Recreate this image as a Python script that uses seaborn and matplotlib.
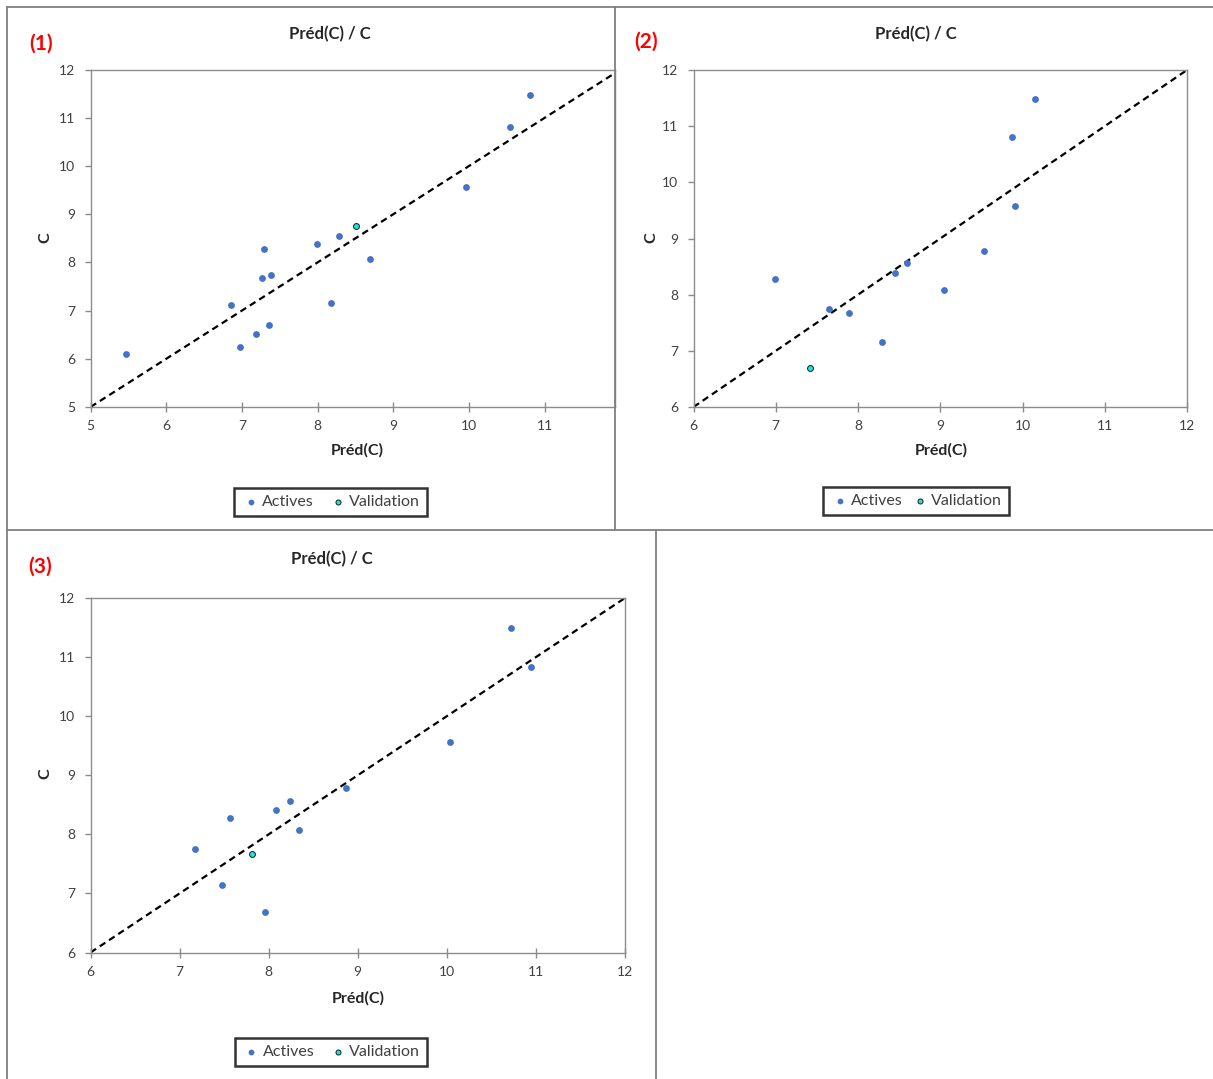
import numpy as np
import pandas as pd
import seaborn as sns
import matplotlib.pyplot as plt
from matplotlib.lines import Line2D

# ---- data: (Préd(C), C) ----
# panel (1)
pred1_act = [5.47, 6.86, 6.98, 7.19, 7.36, 7.27, 7.39, 7.29, 7.99, 8.28, 8.17, 8.69, 9.96, 10.54, 10.81]
obs1_act = [6.10, 7.12, 6.24, 6.51, 6.71, 7.67, 7.73, 8.28, 8.38, 8.55, 7.16, 8.08, 9.56, 10.80, 11.48]
pred1_val = [8.51]
obs1_val = [8.76]

# panel (2)
pred2_act = [6.99, 7.65, 7.89, 8.29, 8.45, 8.59, 9.05, 9.53, 9.87, 9.91, 10.15]
obs2_act = [8.28, 7.74, 7.67, 7.16, 8.39, 8.57, 8.09, 8.78, 10.81, 9.57, 11.49]
pred2_val = [7.42]
obs2_val = [6.70]

# panel (3)
pred3_act = [7.17, 7.48, 7.57, 7.96, 8.08, 8.24, 8.34, 8.87, 10.03, 10.72, 10.95]
obs3_act = [7.75, 7.15, 8.28, 6.69, 8.41, 8.56, 8.08, 8.78, 9.57, 11.49, 10.83]
pred3_val = [7.81]
obs3_val = [7.67]

panel_tags = ["(1)", "(2)", "(3)"]
title = "Préd(C) / C"
xlabel = "Préd(C)"
ylabel = "C"
series_names = ["Actives", "Validation"]

sns.set_style("white")
plt.rcParams['font.family'] = ['Lato', 'DejaVu Sans']

W, H = 1213, 1079
fig = plt.figure(figsize=(W / 100, H / 100), dpi=100)


def rect(l, t, r, b):
    return [l / W, 1 - b / H, (r - l) / W, (b - t) / H]


def fx(px):
    return px / W


def fy(py):
    return 1 - py / H


# panel borders (gray separators)
border = dict(color="#808080", lw=1.3, transform=fig.transFigure)
fig.add_artist(Line2D([fx(7), fx(1213)], [fy(7), fy(7)], **border))
fig.add_artist(Line2D([fx(7), fx(7)], [fy(7), fy(1079)], **border))
fig.add_artist(Line2D([fx(615), fx(615)], [fy(7), fy(530)], **border))
fig.add_artist(Line2D([fx(7), fx(1213)], [fy(530), fy(530)], **border))
fig.add_artist(Line2D([fx(656), fx(656)], [fy(530), fy(1079)], **border))

act_color = "#4472C4"
val_color = "#19E6E0"

panels = [
    dict(data=(pred1_act, obs1_act, pred1_val, obs1_val), box=(90.5, 69.5, 614.5, 407),
         xlim=(5, 11.92), ylim=(5, 12), xt=range(5, 12), yt=range(5, 13),
         title_xy=(330, 34), tag_xy=(41, 44), xl_xy=(357, 450), yl_xy=(45, 238),
         leg_xy=(330.5, 502), colsp=0.9),
    dict(data=(pred2_act, obs2_act, pred2_val, obs2_val), box=(693.5, 70, 1187, 407),
         xlim=(6, 12), ylim=(6, 12), xt=range(6, 13), yt=range(6, 13),
         title_xy=(916, 34), tag_xy=(646, 42), xl_xy=(941, 450), yl_xy=(651, 238),
         leg_xy=(916, 501), colsp=0.45),
    dict(data=(pred3_act, obs3_act, pred3_val, obs3_val), box=(90.5, 598, 625, 952.5),
         xlim=(6, 12), ylim=(6, 12), xt=range(6, 13), yt=range(6, 13),
         title_xy=(332, 559), tag_xy=(40, 567), xl_xy=(358, 998), yl_xy=(45, 774),
         leg_xy=(331, 1052), colsp=0.9),
]

for i, p in enumerate(panels):
    ax = fig.add_axes(rect(*p["box"]))
    pa, oa, pv, ov = p["data"]
    df_a = pd.DataFrame({"pred": pa, "obs": oa})
    df_v = pd.DataFrame({"pred": pv, "obs": ov})
    ax.axline((0, 0), slope=1, color="black", lw=1.6, ls=(0, (3, 2)), zorder=1)
    sns.scatterplot(data=df_a, x="pred", y="obs", ax=ax, color=act_color, s=24,
                    linewidth=0, label=series_names[0], zorder=3)
    sns.scatterplot(data=df_v, x="pred", y="obs", ax=ax, color=val_color, s=18,
                    edgecolor="#1a1a1a", linewidth=0.7, label=series_names[1], zorder=3)
    ax.set_xlim(*p["xlim"])
    ax.set_ylim(*p["ylim"])
    ax.set_xticks(list(p["xt"]))
    ax.set_yticks(list(p["yt"]))
    ax.set_xlabel("")
    ax.set_ylabel("")
    for sp in ax.spines.values():
        sp.set_color("#8c8c8c")
        sp.set_linewidth(1.0)
    ax.tick_params(axis="x", direction="inout", length=7, width=1, color="#8c8c8c",
                   labelsize=10, labelcolor="#404040", pad=6)
    ax.tick_params(axis="y", direction="out", length=4, width=1, color="#8c8c8c",
                   labelsize=10, labelcolor="#404040", pad=7)
    ax.tick_params(bottom=True, left=True)

    handles, labels = ax.get_legend_handles_labels()
    ax.get_legend().remove()
    lx, ly = p["leg_xy"]
    leg = fig.legend(handles, labels, loc="center", bbox_to_anchor=(fx(lx), fy(ly)),
                     ncol=2, fontsize=11.5, frameon=True, fancybox=False,
                     edgecolor="black", handletextpad=0.1, columnspacing=p["colsp"],
                     borderpad=0.45, markerscale=0.85, handlelength=1.2,
                     borderaxespad=0)
    leg.get_frame().set_linewidth(1.8)
    for t in leg.get_texts():
        t.set_color("#404040")

    tx, ty = p["title_xy"]
    fig.text(fx(tx), fy(ty), title, ha="center", va="center", fontsize=12,
             fontweight="bold", color="#262626")
    gx, gy = p["tag_xy"]
    fig.text(fx(gx), fy(gy), panel_tags[i], ha="center", va="center", fontsize=15,
             fontweight="bold", color="#FF0000")
    xx, xy = p["xl_xy"]
    fig.text(fx(xx), fy(xy), xlabel, ha="center", va="center", fontsize=11.5,
             fontweight="bold", color="#262626")
    yx, yy = p["yl_xy"]
    fig.text(fx(yx), fy(yy), ylabel, ha="center", va="center", fontsize=11.5,
             fontweight="bold", color="#262626", rotation=90)

fig.savefig("out.png", dpi=100, facecolor="white")
